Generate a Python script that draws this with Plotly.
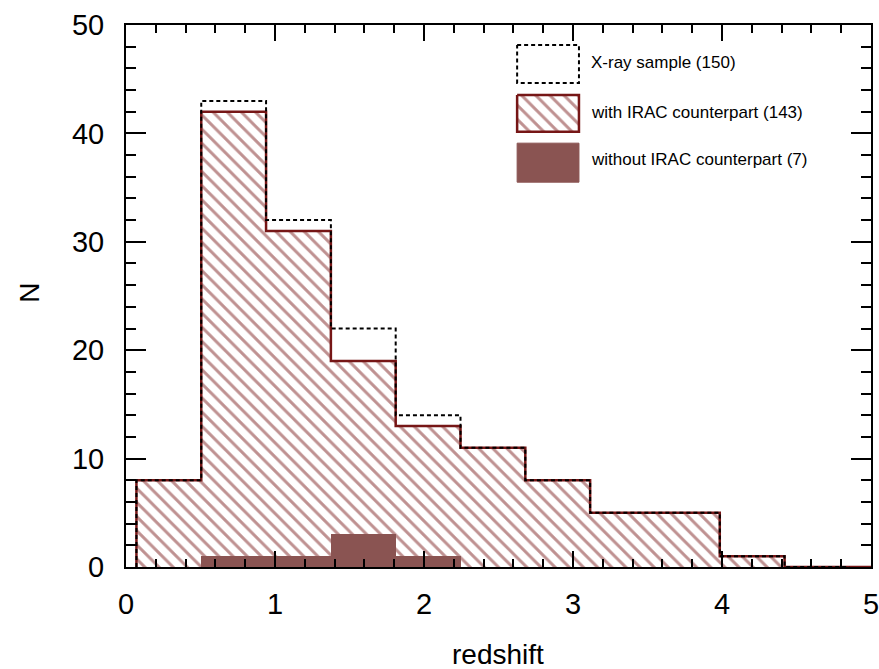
import plotly.graph_objects as go

# ---- data ----
bin_edges = [0.07, 0.505, 0.94, 1.375, 1.81, 2.245, 2.68, 3.115, 3.55, 3.985, 4.42, 4.855]
n_xray = [8, 43, 32, 22, 14, 11, 8, 5, 5, 1, 0]
n_with_irac = [8, 42, 31, 19, 13, 11, 8, 5, 5, 1, 0]
n_without_irac = [0, 1, 1, 3, 1, 0, 0, 0, 0, 0, 0]
x_max = 5.0

legend_labels = ["X-ray sample (150)", "with IRAC counterpart (143)", "without IRAC counterpart (7)"]
x_ticks = [0, 1, 2, 3, 4, 5]
y_ticks = [0, 10, 20, 30, 40, 50]

HATCH = "rgb(128,36,36)"
OUTLINE = "rgb(118,22,22)"
FILLED = "rgb(138,84,82)"
FONT = "Liberation Sans, Arial, Helvetica, sans-serif"

centers = [(bin_edges[i] + bin_edges[i + 1]) / 2 for i in range(len(n_xray))]
widths = [bin_edges[i + 1] - bin_edges[i] for i in range(len(n_xray))]


def step_path(counts):
    xs, ys = [bin_edges[0]], [0]
    for i, c in enumerate(counts):
        xs += [bin_edges[i], bin_edges[i + 1]]
        ys += [c, c]
    xs += [bin_edges[len(counts)], x_max]
    ys += [0, 0]
    return xs, ys


fig = go.Figure()

# hatched bars (with IRAC)
fig.add_trace(go.Bar(
    x=centers, y=n_with_irac, width=widths,
    marker=dict(color="white", line=dict(width=0),
                pattern=dict(shape="\\", fgcolor=HATCH, bgcolor="white",
                             size=10, solidity=0.3, fillmode="overlay")),
    showlegend=False, hoverinfo="skip"))

# filled bars (without IRAC)
fig.add_trace(go.Bar(
    x=centers, y=n_without_irac, width=widths,
    marker=dict(color=FILLED, line=dict(width=0)),
    showlegend=False, hoverinfo="skip"))

# outline of with-IRAC histogram
sx, sy = step_path(n_with_irac)
fig.add_trace(go.Scatter(x=sx, y=sy, mode="lines",
                         line=dict(color=OUTLINE, width=2.5),
                         showlegend=False, hoverinfo="skip"))

# dashed outline of X-ray sample
dx, dy = step_path(n_xray)
fig.add_trace(go.Scatter(x=dx[:-1], y=dy[:-1], mode="lines",
                         line=dict(color="black", width=2, dash="4px,3px"),
                         showlegend=False, hoverinfo="skip"))

# ---- custom legend (overlay axes in 0..1 space) ----
kx0, kx1 = 0.525, 0.608
key_y = [(0.963, 0.893), (0.871, 0.803), (0.782, 0.710)]
text_y = [0.930, 0.839, 0.751]

(y0, y1) = key_y[0]
fig.add_trace(go.Scatter(x=[kx0, kx1, kx1, kx0, kx0], y=[y0, y0, y1, y1, y0],
                         mode="lines", line=dict(color="black", width=2, dash="4px,3px"),
                         xaxis="x2", yaxis="y2", showlegend=False, hoverinfo="skip"))
(y0, y1) = key_y[1]
fig.add_trace(go.Scatter(x=[kx0, kx1, kx1, kx0, kx0], y=[y0, y0, y1, y1, y0],
                         mode="lines", fill="toself", fillcolor="white",
                         fillpattern=dict(shape="\\", fgcolor=HATCH, bgcolor="white",
                                          size=10, solidity=0.3),
                         line=dict(color=OUTLINE, width=2.5),
                         xaxis="x2", yaxis="y2", showlegend=False, hoverinfo="skip"))
(y0, y1) = key_y[2]
fig.add_trace(go.Scatter(x=[kx0, kx1, kx1, kx0, kx0], y=[y0, y0, y1, y1, y0],
                         mode="lines", fill="toself", fillcolor=FILLED,
                         line=dict(color=FILLED, width=1),
                         xaxis="x2", yaxis="y2", showlegend=False, hoverinfo="skip"))

annotations = []
for lab, ty in zip(legend_labels, text_y):
    annotations.append(dict(text=lab, x=0.6215, y=ty, xref="paper", yref="paper",
                            xanchor="left", yanchor="middle", showarrow=False,
                            font=dict(family=FONT, size=17, color="black")))
annotations.append(dict(text="redshift", x=0.499, y=-0.162, xref="paper", yref="paper",
                        xanchor="center", yanchor="middle", showarrow=False,
                        font=dict(family=FONT, size=28, color="black")))
annotations.append(dict(text="N", x=-0.129, y=0.506, xref="paper", yref="paper",
                        xanchor="center", yanchor="middle", showarrow=False, textangle=-90,
                        font=dict(family=FONT, size=28, color="black")))

axis_common = dict(showgrid=False, zeroline=False, showline=True, linecolor="black",
                   linewidth=2, mirror="allticks", ticks="inside", tickcolor="black",
                   tickwidth=1.5, automargin=False, ticklabeloverflow="allow",
                   tickfont=dict(family=FONT, size=29, color="black"))

fig.update_layout(
    width=879, height=669,
    margin=dict(l=126, r=8, t=25, b=102, autoexpand=False),
    paper_bgcolor="white", plot_bgcolor="white",
    barmode="overlay", bargap=0,
    showlegend=False,
    font=dict(family=FONT, color="black"),
    xaxis=dict(range=[0, x_max], tickmode="array", tickvals=x_ticks, ticklen=16,
               ticklabelstandoff=10,
               minor=dict(dtick=0.2, ticklen=8, ticks="inside", tickcolor="black", tickwidth=1.5),
               **axis_common),
    yaxis=dict(range=[0, 50], tickmode="array", tickvals=y_ticks, ticklen=20,
               ticklabelstandoff=14,
               minor=dict(dtick=2, ticklen=10, ticks="inside", tickcolor="black", tickwidth=1.5),
               **axis_common),
    xaxis2=dict(range=[0, 1], overlaying="x", visible=False, fixedrange=True),
    yaxis2=dict(range=[0, 1], overlaying="y", visible=False, fixedrange=True),
    annotations=annotations,
)

fig.write_html("out.html")
